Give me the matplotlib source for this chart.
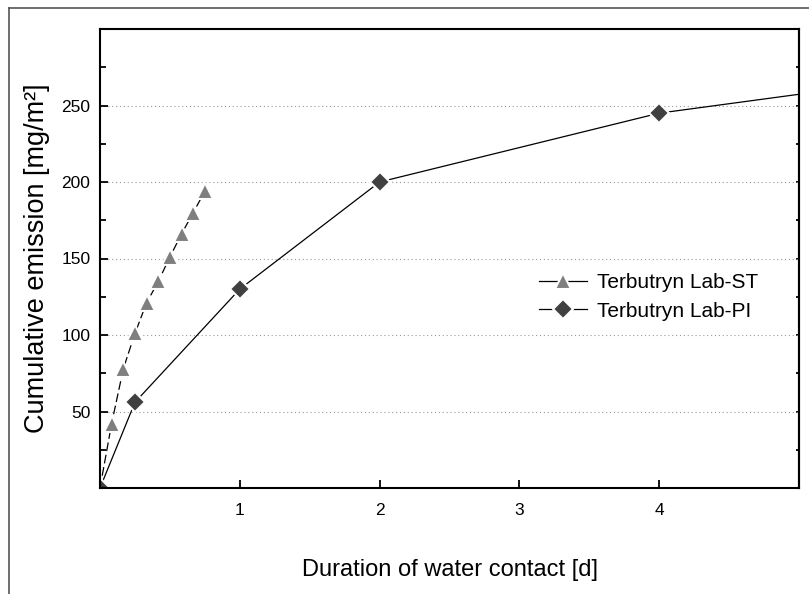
import matplotlib.pyplot as plt
from matplotlib.lines import Line2D
from matplotlib.ticker import MultipleLocator, FixedLocator

plt.rcParams['font.family'] = ['Liberation Sans', 'DejaVu Sans']

# Lab-ST: sampled every 2 h, x in days
st_days = [0, 0.083, 0.167, 0.25, 0.333, 0.417, 0.5, 0.583, 0.667, 0.75]
st_emission = [0, 42, 78, 101, 121, 135, 151, 166, 180, 194]

# Lab-PI
pi_days = [0, 0.25, 1, 2, 4, 7]
pi_emission = [0, 56, 130, 200, 245, 282]

x_ticks = [1, 2, 3, 4]
y_ticks = [50, 100, 150, 200, 250]

fig = plt.figure(figsize=(8.09, 5.94), dpi=100)
ax = fig.add_axes([100/809, 1 - 488/594, 699/809, 459/594])

ax.plot(st_days, st_emission, color='black', lw=0.9, ls=(0, (7, 3)),
        marker='^', ms=12, mfc='#7f7f7f', mec='white', mew=1.5,
        label='Terbutryn Lab-ST')
ax.plot(pi_days, pi_emission, color='black', lw=0.9,
        marker='D', ms=10.5, mfc='#404040', mec='white', mew=1.5,
        label='Terbutryn Lab-PI')

ax.set_xlim(0, 5)
ax.set_ylim(0, 300)
ax.xaxis.set_major_locator(FixedLocator(x_ticks))
ax.yaxis.set_major_locator(FixedLocator(y_ticks))
ax.yaxis.set_minor_locator(MultipleLocator(25))
ax.grid(axis='y', which='major', ls=(0, (1, 2.5)), color='#999999', lw=0.8)

ax.tick_params(axis='both', which='both', direction='in', width=1.3, labelsize=12.5)
ax.tick_params(axis='y', which='major', length=6, pad=7)
ax.tick_params(axis='y', which='minor', length=4)
ax.tick_params(axis='x', which='major', length=6, pad=11)
for s in ax.spines.values():
    s.set_linewidth(1.5)

sec = ax.secondary_yaxis('right')
sec.yaxis.set_major_locator(FixedLocator(y_ticks))
sec.yaxis.set_minor_locator(MultipleLocator(25))
sec.tick_params(which='both', direction='in', length=2.5, width=1.3, labelright=False)
sec.spines['right'].set_linewidth(1.5)

ax.set_xlabel('Duration of water contact [d]', fontsize=17, labelpad=29)
ax.set_ylabel('Cumulative emission [mg/m²]', fontsize=19.5, labelpad=8)

leg = ax.legend(loc='center left', bbox_to_anchor=(0.628, 0.416), frameon=False,
                fontsize=15, numpoints=1, handlelength=2.3, handletextpad=0.5,
                borderpad=0, borderaxespad=0, labelspacing=0.45)
for h in leg.legend_handles:
    h.set_linestyle('-')

# outer frame of the original figure
fig.add_artist(Line2D([9/809, 9/809], [0, 1 - 8/594], color='#555555', lw=1.2))
fig.add_artist(Line2D([9/809, 1], [1 - 8/594, 1 - 8/594], color='#555555', lw=1.2))

fig.savefig('out.png', dpi=100)
